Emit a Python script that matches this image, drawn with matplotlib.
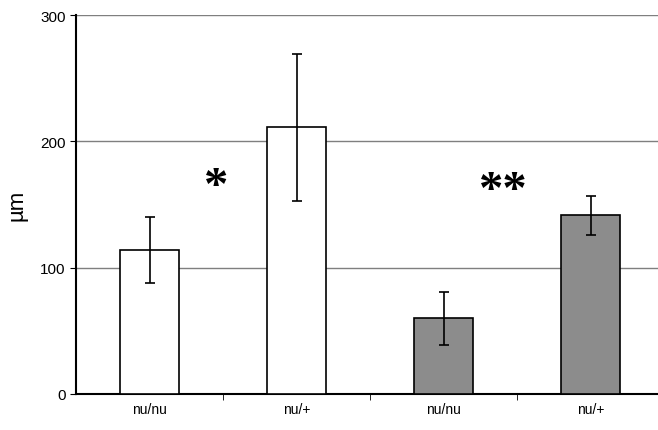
import numpy as np
import matplotlib.pyplot as plt

# values (um)
labels = ["nu/nu", "nu/+", "nu/nu", "nu/+"]
means = [114, 211, 60, 142]
err_low = [26, 58, 21, 16]
err_high = [26, 58, 21, 15]
colors = ["white", "white", "#8c8c8c", "#8c8c8c"]

plt.rcParams['font.family'] = ['Liberation Sans', 'DejaVu Sans']

fig = plt.figure(figsize=(6.58, 4.31), dpi=100)
ax = fig.add_axes([76 / 658, 36 / 431, 588 / 658, 379 / 431])

x = np.arange(len(means))
ax.bar(x, means, width=0.4, color=colors, edgecolor="black", linewidth=1.2, zorder=3)
ax.errorbar(x, means, yerr=[err_low, err_high], fmt="none", ecolor="black",
            elinewidth=1.2, capsize=3.5, capthick=1.2, zorder=4)

ax.set_xlim(-0.5, 3.5)
ax.set_ylim(0, 300)
ax.set_yticks([0, 100, 200, 300])
ax.yaxis.grid(True, color="#7f7f7f", linewidth=1, zorder=0)
ax.set_axisbelow(True)

ax.set_xticks(x)
ax.set_xticklabels(labels, fontsize=10)
ax.set_xticks([0.5, 1.5, 2.5], minor=True)
ax.tick_params(axis="x", which="major", length=0, pad=6)
ax.tick_params(axis="x", which="minor", length=4, direction="out")
ax.tick_params(axis="y", length=4, labelsize=11)

for side in ["top", "right"]:
    ax.spines[side].set_visible(False)
ax.spines["left"].set_linewidth(1.5)
ax.spines["bottom"].set_linewidth(1.5)

ax.set_ylabel("µm", fontsize=16, labelpad=9)

star_font = ["Liberation Serif", "DejaVu Serif"]
ax.text(0.455, 154, "*", fontsize=35, fontweight="bold", family=star_font,
        ha="center", va="baseline")
ax.text(2.41, 151, "**", fontsize=35, fontweight="bold", family=star_font,
        ha="center", va="baseline")

fig.savefig("out.png", dpi=100)
